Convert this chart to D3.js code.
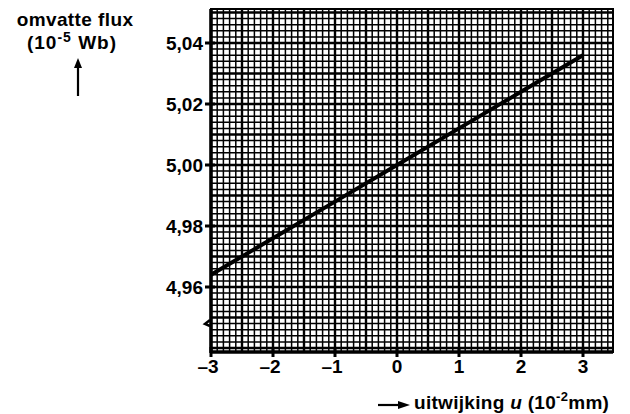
<!DOCTYPE html>
<html>
<head>
<meta charset="utf-8">
<script src="https://cdn.jsdelivr.net/npm/d3@7"></script>
<style>
  body { margin: 0; background: #fff; }
  svg { display: block; font-family: "Liberation Sans", Arial, sans-serif; font-weight: bold; }
  .tick-label { font-size: 19px; fill: #000; }
  .title { font-size: 19px; fill: #000; }
</style>
</head>
<body>
<svg width="630" height="414"></svg>
<script>
// data
var uValues = [-3, -2, -1, 0, 1, 2, 3];
var fluxValues = [4.964, 4.976, 4.988, 5.000, 5.012, 5.024, 5.036];
var xTicks = [-3, -2, -1, 0, 1, 2, 3];
var yTicks = [4.96, 4.98, 5.00, 5.02, 5.04];

//begin: layout conf.
var plotLeft = 211, plotRight = 613, plotTop = 9, plotBottom = 352;
//end: layout conf.

var svg = d3.select("svg");

var x = d3.scaleLinear()
    .domain([-3, 3])
    .range([211, 583]);
var y = d3.scaleLinear()
    .domain([4.96, 5.04])
    .range([287, 43]);

var xMin = x.invert(plotLeft), xMax = x.invert(plotRight);
var yMin = y.invert(plotBottom), yMax = y.invert(plotTop);

// graph paper
var grid = svg.append("g");

var vLines = d3.range(Math.ceil(xMin * 10), Math.floor(xMax * 10) + 1).map(function(i){ return i / 10; });
var hLines = d3.range(Math.ceil(yMin * 500), Math.floor(yMax * 500) + 1).map(function(i){ return i / 500; });

grid.selectAll(".v")
    .data(vLines)
    .enter().append("line")
      .attr("x1", function(d){ return x(d); })
      .attr("x2", function(d){ return x(d); })
      .attr("y1", plotTop)
      .attr("y2", plotBottom)
      .attr("stroke", "#000")
      .attr("stroke-width", function(d){ return Math.abs(Math.round(d * 10) % 5) == 0 ? 2.4 : 1.5; });

grid.selectAll(".h")
    .data(hLines)
    .enter().append("line")
      .attr("y1", function(d){ return y(d); })
      .attr("y2", function(d){ return y(d); })
      .attr("x1", plotLeft)
      .attr("x2", plotRight)
      .attr("stroke", "#000")
      .attr("stroke-width", function(d){ return Math.abs(Math.round(d * 500) % 5) == 0 ? 2.4 : 1.5; });

// frame
svg.append("rect")
    .attr("x", plotLeft)
    .attr("y", plotTop)
    .attr("width", plotRight - plotLeft)
    .attr("height", plotBottom - plotTop)
    .attr("fill", "none")
    .attr("stroke", "#000")
    .attr("stroke-width", 2);
svg.append("line")
    .attr("x1", plotLeft).attr("x2", plotLeft)
    .attr("y1", plotTop).attr("y2", plotBottom + 1)
    .attr("stroke", "#000").attr("stroke-width", 3.5);
svg.append("line")
    .attr("x1", plotLeft).attr("x2", plotRight)
    .attr("y1", plotBottom).attr("y2", plotBottom)
    .attr("stroke", "#000").attr("stroke-width", 3.5);

// ticks
var fmt = function(d){ return d3.format(".2f")(d).replace(".", ","); };

var yAxis = svg.append("g");
yAxis.selectAll("line")
    .data(yTicks)
    .enter().append("line")
      .attr("x1", plotLeft - 6).attr("x2", plotLeft + 4)
      .attr("y1", function(d){ return y(d); })
      .attr("y2", function(d){ return y(d); })
      .attr("stroke", "#000").attr("stroke-width", 3);
yAxis.selectAll("text")
    .data(yTicks)
    .enter().append("text")
      .classed("tick-label", true)
      .attr("x", plotLeft - 8)
      .attr("y", function(d){ return y(d); })
      .attr("dy", "0.36em")
      .attr("text-anchor", "end")
      .text(fmt);

var xAxis = svg.append("g");
xAxis.selectAll("line")
    .data(xTicks)
    .enter().append("line")
      .attr("x1", function(d){ return x(d); })
      .attr("x2", function(d){ return x(d); })
      .attr("y1", plotBottom - 5).attr("y2", plotBottom + 5)
      .attr("stroke", "#000").attr("stroke-width", 3);
xAxis.selectAll("text")
    .data(xTicks)
    .enter().append("text")
      .classed("tick-label", true)
      .attr("x", function(d){ return x(d) + (d < 0 ? -3 : 0); })
      .attr("y", 373)
      .attr("text-anchor", "middle")
      .text(function(d){ return d < 0 ? "\u2013" + Math.abs(d) : d; });

// axis break mark
svg.append("path")
    .attr("d", "M" + [plotLeft - 1, 320] + "L" + [plotLeft - 6, 324] + "L" + [plotLeft - 1, 326])
    .attr("fill", "none")
    .attr("stroke", "#000")
    .attr("stroke-width", 2.5);

// the line
var line = d3.line()
    .x(function(d, i){ return x(uValues[i]); })
    .y(function(d){ return y(d); });
svg.append("path")
    .datum(fluxValues)
    .attr("d", line)
    .attr("fill", "none")
    .attr("stroke", "#000")
    .attr("stroke-width", 4);

// y title
svg.append("text")
    .classed("title", true)
    .style("letter-spacing", "0.4px")
    .attr("x", 75).attr("y", 26)
    .attr("text-anchor", "middle")
    .text("omvatte flux");
var yt = svg.append("text")
    .classed("title", true)
    .style("letter-spacing", "1px")
    .attr("x", 72).attr("y", 49)
    .attr("text-anchor", "middle");
yt.append("tspan").text("(10");
yt.append("tspan").attr("dy", -7).style("font-size", "14px").text("-5");
yt.append("tspan").attr("dy", 7).text(" Wb)");

svg.append("line")
    .attr("x1", 78).attr("x2", 78)
    .attr("y1", 96).attr("y2", 66)
    .attr("stroke", "#000").attr("stroke-width", 2.2);
svg.append("path")
    .attr("d", "M74,68L78,58L82,68Z")
    .attr("fill", "#000");

// x title
svg.append("line")
    .attr("x1", 378).attr("x2", 400)
    .attr("y1", 405).attr("y2", 405)
    .attr("stroke", "#000").attr("stroke-width", 2.2);
svg.append("path")
    .attr("d", "M398,401L410,405L398,409Z")
    .attr("fill", "#000");
var xt = svg.append("text")
    .classed("title", true)
    .style("font-size", "19px")
    .style("letter-spacing", "0.3px")
    .attr("x", 414).attr("y", 409);
xt.append("tspan").text("uitwijking ");
xt.append("tspan").style("font-style", "italic").text("u");
xt.append("tspan").text(" (10");
xt.append("tspan").attr("dy", -8).style("font-size", "13px").text("-2");
xt.append("tspan").attr("dy", 8).text("mm)");
</script>
</body>
</html>
